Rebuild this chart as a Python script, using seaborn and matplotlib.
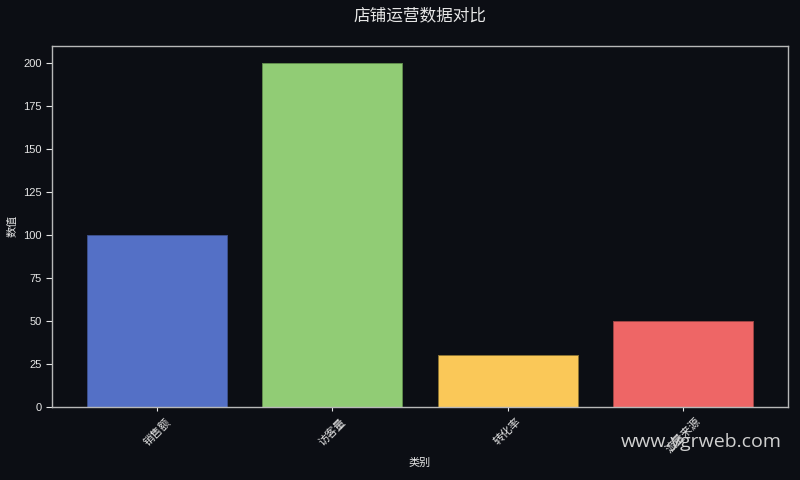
import pandas as pd
import matplotlib.pyplot as plt
import seaborn as sns

categories = ["销售额", "访客量", "转化率", "流量来源"]
values = [100, 200, 30, 50]
colors = ["#5470c6", "#91cc75", "#fac858", "#ee6666"]
edge_colors = ["#3c4f8a", "#5f8a4c", "#8a7232", "#9a4444"]

bg = "#0c0e14"
fg = "#e6e6e6"

sns.set_theme(style="dark")
plt.rcParams["font.family"] = ["Liberation Sans", "Noto Sans CJK SC", "DejaVu Sans"]

df = pd.DataFrame({"类别": categories, "数值": values})

fig, ax = plt.subplots(figsize=(8, 4.8), dpi=100)
fig.patch.set_facecolor(bg)
ax.set_facecolor(bg)

sns.barplot(data=df, x="类别", y="数值", hue="类别", palette=colors,
            legend=False, width=0.8, saturation=1, ax=ax)
for container, ec in zip(ax.containers, edge_colors):
    for patch in container:
        patch.set_edgecolor(ec)
        patch.set_linewidth(0.7)

ax.set_xlim(-0.6, 3.6)
ax.set_ylim(0, 210)
ax.set_title("店铺运营数据对比", color=fg, fontsize=12, pad=18)
ax.set_xlabel("类别", color=fg, fontsize=8, labelpad=2)
ax.set_ylabel("数值", color=fg, fontsize=8)
ax.tick_params(axis="both", colors=fg, labelsize=8, width=0.8,
               bottom=True, left=True, direction="out")
ax.tick_params(axis="x", length=3)
ax.tick_params(axis="y", length=4)
plt.setp(ax.get_xticklabels(), rotation=45)
for spine in ax.spines.values():
    spine.set_visible(True)
    spine.set_color("#b8b8b8")
    spine.set_linewidth(1)
ax.grid(False)

fig.subplots_adjust(left=0.065, right=0.985, top=0.905, bottom=0.152)
fig.text(0.977, 0.06, "www.ygrweb.com", color="#d0d0d0", fontsize=14,
         ha="right", va="bottom", family=["Open Sans", "DejaVu Sans"])

plt.savefig("out.png", facecolor=bg)
